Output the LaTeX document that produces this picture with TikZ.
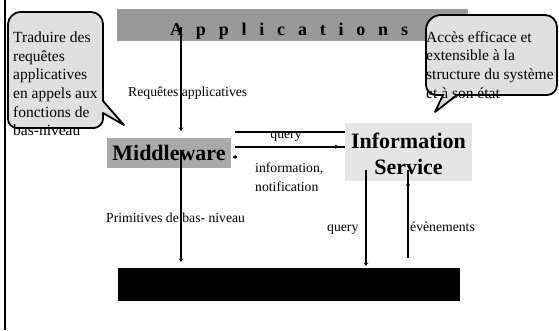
\documentclass[tikz,border=0pt]{standalone}
\usepackage{fontspec}
\setmainfont{Liberation Serif}
\usetikzlibrary{arrows.meta,decorations.markings}

\definecolor{appgray}{RGB}{153,153,153}
\definecolor{mwgray}{RGB}{170,170,170}
\definecolor{isgray}{RGB}{229,229,229}
\definecolor{balloongray}{RGB}{224,224,224}

\newcommand\lettergap{\hspace{12.8pt}}

\begin{document}
\begin{tikzpicture}[x=1pt,y=-1pt,
  conn/.style={line width=1.7pt},
  headed/.style={-{Stealth[length=3.5pt,width=4.5pt,inset=1.2pt]}},
  midhead/.style={postaction={decorate},
    decoration={markings,mark=at position #1 with {\arrow{Stealth[length=3.5pt,width=4.5pt,inset=1.2pt]}}}},
  layerbox/.style={inner sep=0pt,anchor=north west},
  lbl/.style={font=\fontsize{13.7}{19}\selectfont,inner sep=0pt},
  balloontext/.style={font=\fontsize{15.5}{18.7}\selectfont,inner sep=0pt,align=left,anchor=north west},
  balloonfill/.style={fill=balloongray},
  balloonline/.style={draw=black,line width=1.8pt,line join=round},
  title/.style={font=\bfseries\fontsize{22}{26}\selectfont,align=center,inner sep=0pt}]

\useasboundingbox (0,0) rectangle (559,330);
\fill[white] (0,0) rectangle (559,330);

% frame edge on the left
\draw[line width=2pt] (4.7,0) -- (4.7,330);

% layers
\node[layerbox,fill=appgray,minimum width=351pt,minimum height=32pt] (apps) at (117,9) {};
\node[font=\bfseries\fontsize{18}{18}\selectfont,anchor=base west,inner sep=0pt] (appstitle) at (170,35)
  {A\lettergap p\lettergap p\lettergap l\lettergap i\lettergap c\lettergap a\lettergap t\lettergap i\lettergap o\lettergap n\lettergap s};

\node[title,fill=mwgray,minimum width=124pt,minimum height=30pt] (mw) at (169,153) {Middleware};
\node[fill=isgray,minimum width=127pt,minimum height=57.5pt,inner sep=0pt] (is) at (408.5,151.75) {};
\node[title] (istitle) at (408.5,153.5) {Information\\Service};

\node[layerbox,fill=black,minimum width=342pt,minimum height=33pt] (base) at (118,268) {};

% left speech balloon
\path[balloonfill] (8,24) .. controls (8,17.4) and (14.6,12) .. (20,12) -- (91,12)
  .. controls (97.6,12) and (103,17.4) .. (103,24) -- (103,101) -- (124,125) -- (103,113) -- (103,119)
  .. controls (103,124) and (98,128) .. (94,128) -- (17,128)
  .. controls (12,128) and (8,124) .. (8,119) -- cycle;
\node[balloontext] (lefttext) at (13,31.4)
  {Traduire des\\requêtes\\applicatives\\en appels aux\\fonctions de\\bas-niveau};
\path[balloonline] (8,24) .. controls (8,17.4) and (14.6,12) .. (20,12) -- (91,12)
  .. controls (97.6,12) and (103,17.4) .. (103,24) -- (103,101) -- (124,125) -- (103,113) -- (103,119)
  .. controls (103,124) and (98,128) .. (94,128) -- (17,128)
  .. controls (12,128) and (8,124) .. (8,119) -- cycle;

% right speech balloon
\path[balloonfill] (426,30) .. controls (426,21.7) and (432.7,15) .. (441,15) -- (545,15)
  .. controls (551.6,15) and (557,20.4) .. (557,27) -- (557,85)
  .. controls (557,90.5) and (552.5,95) .. (547,95) -- (457,95) -- (435,112) -- (443,95) -- (436,95)
  .. controls (430.5,95) and (426,90.5) .. (426,85) -- cycle;
\node[balloontext] (righttext) at (426,31)
  {Accès efficace et\\extensible à la\\structure du système\\et à son état};
\path[balloonline] (426,30) .. controls (426,21.7) and (432.7,15) .. (441,15) -- (545,15)
  .. controls (551.6,15) and (557,20.4) .. (557,27) -- (557,85)
  .. controls (557,90.5) and (552.5,95) .. (547,95) -- (457,95) -- (435,112) -- (443,95) -- (436,95)
  .. controls (430.5,95) and (426,90.5) .. (426,85) -- cycle;

% connector labels
\node[lbl,anchor=base west] (lreq) at (128,96.5) {Requêtes applicatives};
\node[lbl,anchor=base] (lquery) at (286,138) {query};
\node[lbl,align=left,anchor=north west] (linfo) at (255,162.6) {information,\\notification};
\node[lbl,anchor=base west] (lprim) at (106,222.5) {Primitives de bas- niveau};
\node[lbl,anchor=base west] (lquery2) at (327,231.5) {query};
\node[lbl,anchor=base west] (levt) at (410,231.5) {évènements};

% connector end points
\coordinate (appsout) at (181,27);
\coordinate (mwin) at (181,131);
\coordinate (mwout) at (181,150);
\coordinate (basein1) at (181,262);
\coordinate (isout) at (366,170);
\coordinate (basein2) at (366,266);
\coordinate (baseout) at (408,258);
\coordinate (isin) at (408,170);
\coordinate (q1a) at (235,131.7);
\coordinate (q1b) at (345,131.7);
\coordinate (q2a) at (235,146.7);
\coordinate (q2b) at (345,146.7);
\coordinate (infoa) at (236.5,157);
\coordinate (infob) at (232.5,157);

% connectors
\draw[conn,headed] (appsout) -- (mwin);
\draw[conn,headed] (mwout) -- (basein1);
\draw[conn,headed] (isout) -- (basein2);
\draw[conn,midhead=0.86] (baseout) -- (isin);
\draw[conn] (q1a) -- (q1b);
\draw[conn,midhead=0.94] (q2a) -- (q2b);
\draw[conn,headed] (infoa) -- (infob);

\end{tikzpicture}
\end{document}
